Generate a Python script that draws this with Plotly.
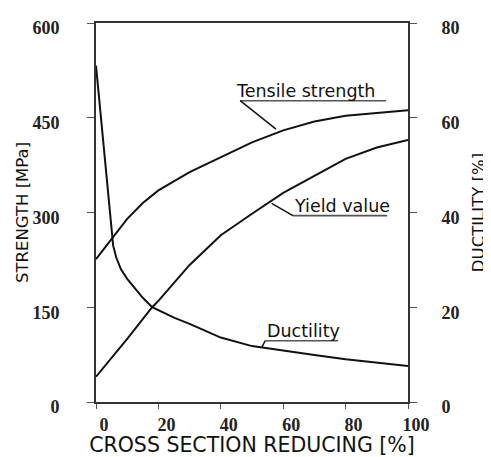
import plotly.graph_objects as go

# ---- data ----
reduction_ticks = [0, 20, 40, 60, 80, 100]
strength_ticks = [0, 150, 300, 450, 600]
ductility_ticks = [0, 20, 40, 60, 80]

tensile_x = [0, 5, 10, 15, 20, 30, 40, 50, 60, 70, 80, 90, 100]
tensile_y = [226, 258, 290, 315, 335, 364, 387, 411, 430, 444, 453, 458, 462]

yield_x = [0, 10, 18, 20, 30, 40, 50, 60, 70, 80, 90, 100]
yield_y = [40, 100, 150, 160, 217, 264, 298, 331, 358, 385, 403, 415]

ductility_x = [0, 4, 5, 5.5, 6.5, 8, 10, 12, 15, 18, 20, 25, 30, 40, 50, 60, 70, 80, 90, 100]
ductility_y = [71, 44, 36, 33, 30.5, 28, 26, 24.3, 22, 20, 19.4, 17.8, 16.5, 13.6, 11.8, 10.8, 9.9, 9.0, 8.3, 7.6]

labels = ["Tensile strength", "Yield value", "Ductility"]

fig = go.Figure()
line_style = dict(color="#111111", width=2)
fig.add_trace(go.Scatter(x=tensile_x, y=tensile_y, mode="lines", line=line_style,
                         name=labels[0], yaxis="y"))
fig.add_trace(go.Scatter(x=yield_x, y=yield_y, mode="lines", line=line_style,
                         name=labels[1], yaxis="y"))
fig.add_trace(go.Scatter(x=ductility_x, y=ductility_y, mode="lines", line=line_style,
                         name=labels[2], yaxis="y2"))

tick_font = dict(family="Liberation Serif", size=18, color="#222222", weight="bold")
title_font = dict(family="DejaVu Sans", size=16.5, color="#111111")
label_font = dict(family="DejaVu Sans", size=17.5, color="#111111")

# label annotations: (text, left x, underline y, underline x0, x1, leader from (x,y) to (x,y))
label_specs = [
    (labels[0], 44.6, 477, 46.2, 93.0, (57.7, 432), (46.2, 477)),
    (labels[1], 63.1, 295, 63.1, 93.3, (56.3, 314.5), (63.1, 295)),
    (labels[2], 54.5, 97, 54.2, 77.6, (53.2, 87), (54.2, 97)),
]
annotations = []
shapes = []
for text, lx, uy, ux0, ux1, p0, p1 in label_specs:
    annotations.append(dict(x=lx, y=uy, xref="x", yref="y", text=text, showarrow=False,
                            xanchor="left", yanchor="bottom", font=label_font,
                            borderpad=0, yshift=-1))
    shapes.append(dict(type="line", xref="x", yref="y", x0=ux0, x1=ux1, y0=uy, y1=uy,
                       line=dict(color="#555555", width=1.6)))
    shapes.append(dict(type="line", xref="x", yref="y", x0=p0[0], y0=p0[1], x1=p1[0], y1=p1[1],
                       line=dict(color="#111111", width=1.5)))

# The page body has an 8px margin, so the figure is offset by 8px.
fig.update_layout(
    width=483, height=449,
    margin=dict(l=88, r=83, t=15, b=55, autoexpand=False),
    paper_bgcolor="white", plot_bgcolor="white",
    showlegend=False,
    annotations=annotations,
    shapes=shapes,
    xaxis=dict(
        range=[0, 100], tickvals=reduction_ticks, ticktext=[str(v) for v in reduction_ticks],
        showline=True, linecolor="#333333", linewidth=2, mirror=True,
        ticks="outside", ticklen=5, tickwidth=1, tickcolor="#555555",
        showgrid=False, zeroline=False, tickfont=tick_font, automargin=False,
        ticklabelshift=8, ticklabelstandoff=0,
        title=dict(text="CROSS SECTION REDUCING [%]",
                   font=dict(family="DejaVu Sans", size=20.5, color="#111111"), standoff=20),
    ),
    yaxis=dict(
        range=[0, 600], tickvals=strength_ticks, ticktext=[str(v) for v in strength_ticks],
        showline=True, linecolor="#333333", linewidth=2, mirror="ticks",
        ticks="outside", ticklen=7, tickwidth=1, tickcolor="#555555",
        showgrid=False, zeroline=False, tickfont=tick_font, automargin=False,
        ticklabelshift=5, ticklabelstandoff=24,
        title=dict(text="STRENGTH [MPa]", font=title_font, standoff=0),
    ),
    yaxis2=dict(
        range=[0, 80], tickvals=ductility_ticks, ticktext=[str(v) for v in ductility_ticks],
        overlaying="y", side="right",
        showline=False,
        ticks="outside", ticklen=29, tickwidth=1, tickcolor="rgba(0,0,0,0)",
        showgrid=False, zeroline=False, tickfont=tick_font, automargin=False,
        ticklabelshift=5,
        title=dict(text="DUCTILITY [%]", font=title_font, standoff=13),
    ),
)

fig.write_html("out.html")
